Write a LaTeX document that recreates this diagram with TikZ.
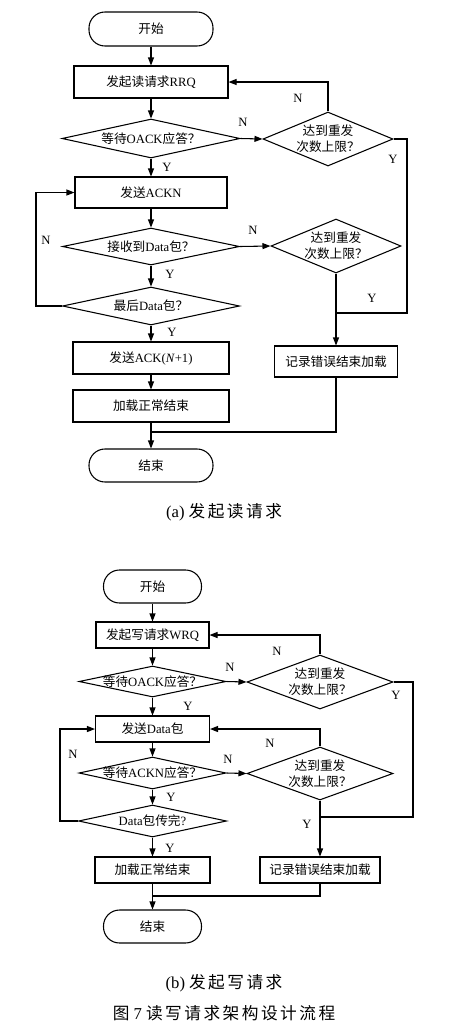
\documentclass[tikz,border=0pt]{standalone}
\usepackage{fontspec}
\setmainfont{Liberation Serif}
\newfontfamily\cjk{Noto Sans CJK SC}
\newfontfamily\cjkcap[LetterSpace=15]{Noto Sans CJK SC}
\usetikzlibrary{shapes.geometric,arrows.meta}
\newcommand\zh[1]{{\cjk #1}}
\begin{document}
\begin{tikzpicture}[x=0.75pt,y=-0.75pt,
  every node/.style={font=\fontsize{9.5}{12}\selectfont},
  box/.style={draw, rectangle, inner sep=0pt, line width=0.8pt},
  term/.style={draw, rectangle, rounded corners=12pt, inner sep=0pt, line width=0.8pt},
  dia/.style={draw, diamond, inner sep=0pt, line width=0.8pt},
  txt/.style={inner sep=0pt, align=center},
  yn/.style={font=\fontsize{9.5}{10}\selectfont, inner sep=0pt},
  captxt/.style={font=\fontsize{12.5}{14}\selectfont, inner sep=0pt},
  line/.style={line width=0.8pt},
  arr/.style={line width=0.8pt, -{Triangle[length=6pt,width=4.5pt]}},
]
\useasboundingbox (0,0) rectangle (455,1036);

% ---------------- (a) ----------------
\node[term, minimum width=93pt, minimum height=25.5pt] (sa) at (151,29) {\zh{开始}};
\node[box, minimum width=115.5pt, minimum height=24pt] (rrq) at (151,82) {\zh{发起读请求}RRQ};
\node[dia, minimum width=133.5pt, minimum height=29.25pt] (d1) at (151,138.5) {};
\node[txt] (d1t) at (d1) {\zh{等待}OACK\zh{应答？}};
\node[dia, minimum width=97.5pt, minimum height=40.5pt] (r1) at (328,139) {};
\node[txt] (r1t) at (r1) {\zh{达到重发}\\\zh{次数上限？}};
\node[box, minimum width=114pt, minimum height=23.25pt] (ackn) at (151,192.5) {\zh{发送}ACKN};
\node[dia, minimum width=132.75pt, minimum height=27.75pt] (d2) at (151,246.5) {};
\node[txt] (d2t) at (d2) {\zh{接收到}Data\zh{包？}};
\node[dia, minimum width=97.5pt, minimum height=40.5pt] (r2) at (336,246) {};
\node[txt] (r2t) at (r2) {\zh{达到重发}\\\zh{次数上限？}};
\node[dia, minimum width=132.75pt, minimum height=28.5pt] (d3) at (151,306) {};
\node[txt] (d3t) at (d3) {\zh{最后}Data\zh{包？}};
\node[box, minimum width=117pt, minimum height=24pt] (ack1) at (151,358) {\zh{发送}ACK(\textit{N}+1)};
\node[box, minimum width=117pt, minimum height=24pt] (oka) at (151,406) {\zh{加载正常结束}};
\node[box, minimum width=92.25pt, minimum height=23.25pt] (erra) at (336,361.5) {\zh{记录错误结束加载}};
\node[term, minimum width=93pt, minimum height=24.75pt] (ea) at (151,465.5) {\zh{结束}};

\coordinate (ya) at (407,313);
\coordinate (ja) at (336,313);
\coordinate (la) at (36,306);
\coordinate (ma) at (151,432);

\draw[arr] (sa) -- (rrq);
\draw[arr] (rrq) -- (d1);
\draw[arr] (d1) -- (ackn);
\draw[arr] (d1.east) -- (r1.west);
\draw[arr] (r1.north) |- (rrq.east);
\draw[line] (r1.east) -| (ya) -- (ja);
\draw[arr] (ackn) -- (d2);
\draw[arr] (d2.east) -- (r2.west);
\draw[arr] (d2) -- (d3);
\draw[arr] (d3.west) -- (la) |- (ackn.west);
\draw[arr] (d3) -- (ack1);
\draw[arr] (ack1) -- (oka);
\draw[arr] (r2.south) -- (erra.north);
\draw[line] (erra.south) |- (ma);
\draw[arr] (oka) -- (ea);

\node[yn] (na1) at (243,122) {N};
\node[yn] (na2) at (298,98) {N};
\node[yn] (ya1) at (393,159) {Y};
\node[yn] (ya2) at (167,167) {Y};
\node[yn] (na3) at (253,230) {N};
\node[yn] (na4) at (46,240) {N};
\node[yn] (ya3) at (170,274) {Y};
\node[yn] (ya4) at (172,332) {Y};
\node[yn] (ya5) at (372,298) {Y};

\node[captxt] (capa) at (224,512) {(a)\hspace{3pt}{\cjkcap 发起读请求}};

% ---------------- (b) ----------------
\node[term, minimum width=73.5pt, minimum height=24.75pt] (sb) at (152.5,586.5) {\zh{开始}};
\node[box, minimum width=84.75pt, minimum height=19.5pt] (wrq) at (152.5,635) {\zh{发起写请求}WRQ};
\node[dia, minimum width=110.25pt, minimum height=23.25pt] (e1) at (152.5,681.5) {};
\node[txt] (e1t) at (e1) {\zh{等待}OACK\zh{应答？}};
\node[dia, minimum width=109.5pt, minimum height=40.5pt] (s1) at (320,682) {};
\node[txt] (s1t) at (s1) {\zh{达到重发}\\\zh{次数上限？}};
\node[box, minimum width=85.5pt, minimum height=19.5pt] (datab) at (152.5,729) {\zh{发送}Data\zh{包}};
\node[dia, minimum width=110.25pt, minimum height=24pt] (e2) at (152.5,773) {};
\node[txt] (e2t) at (e2) {\zh{等待}ACKN\zh{应答？}};
\node[dia, minimum width=109.5pt, minimum height=39.75pt] (s2) at (320,773.5) {};
\node[txt] (s2t) at (s2) {\zh{达到重发}\\\zh{次数上限？}};
\node[dia, minimum width=111pt, minimum height=24pt] (e3) at (152.5,821) {};
\node[txt] (e3t) at (e3) {Data\zh{包传完}?};
\node[box, minimum width=86.25pt, minimum height=19.5pt] (okb) at (152.5,870) {\zh{加载正常结束}};
\node[box, minimum width=90pt, minimum height=19.5pt] (errb) at (320,870) {\zh{记录错误结束加载}};
\node[term, minimum width=73.5pt, minimum height=24.75pt] (eb) at (152.5,926.5) {\zh{结束}};

\coordinate (yb) at (413,817);
\coordinate (jb) at (320,817);
\coordinate (lb) at (60,821);
\coordinate (mb) at (152.5,896);

\draw[arr] (sb) -- (wrq);
\draw[arr] (wrq) -- (e1);
\draw[arr] (e1) -- (datab);
\draw[arr] (e1.east) -- (s1.west);
\draw[arr] (s1.north) |- (wrq.east);
\draw[line] (s1.east) -| (yb) -- (jb);
\draw[arr] (datab) -- (e2);
\draw[arr] (e2.east) -- (s2.west);
\draw[arr] (s2.north) |- (datab.east);
\draw[arr] (e2) -- (e3);
\draw[arr] (e3.west) -- (lb) |- (datab.west);
\draw[arr] (e3) -- (okb);
\draw[arr] (s2.south) -- (errb.north);
\draw[line] (errb.south) |- (mb);
\draw[arr] (okb) -- (eb);

\node[yn] (nb1) at (230,667) {N};
\node[yn] (nb2) at (277,651) {N};
\node[yn] (yb1) at (396,695) {Y};
\node[yn] (yb2) at (188,706) {Y};
\node[yn] (nb3) at (270,743) {N};
\node[yn] (nb4) at (228,759) {N};
\node[yn] (yb3) at (171,797) {Y};
\node[yn] (nb5) at (73,754) {N};
\node[yn] (yb4) at (170,848) {Y};
\node[yn] (yb5) at (307,824) {Y};

\node[captxt] (capb) at (224,983) {(b)\hspace{3pt}{\cjkcap 发起写请求}};
\node[captxt] (fig) at (224,1013) {{\cjkcap 图} 7 {\cjkcap 读写请求架构设计流程}};
\end{tikzpicture}
\end{document}
